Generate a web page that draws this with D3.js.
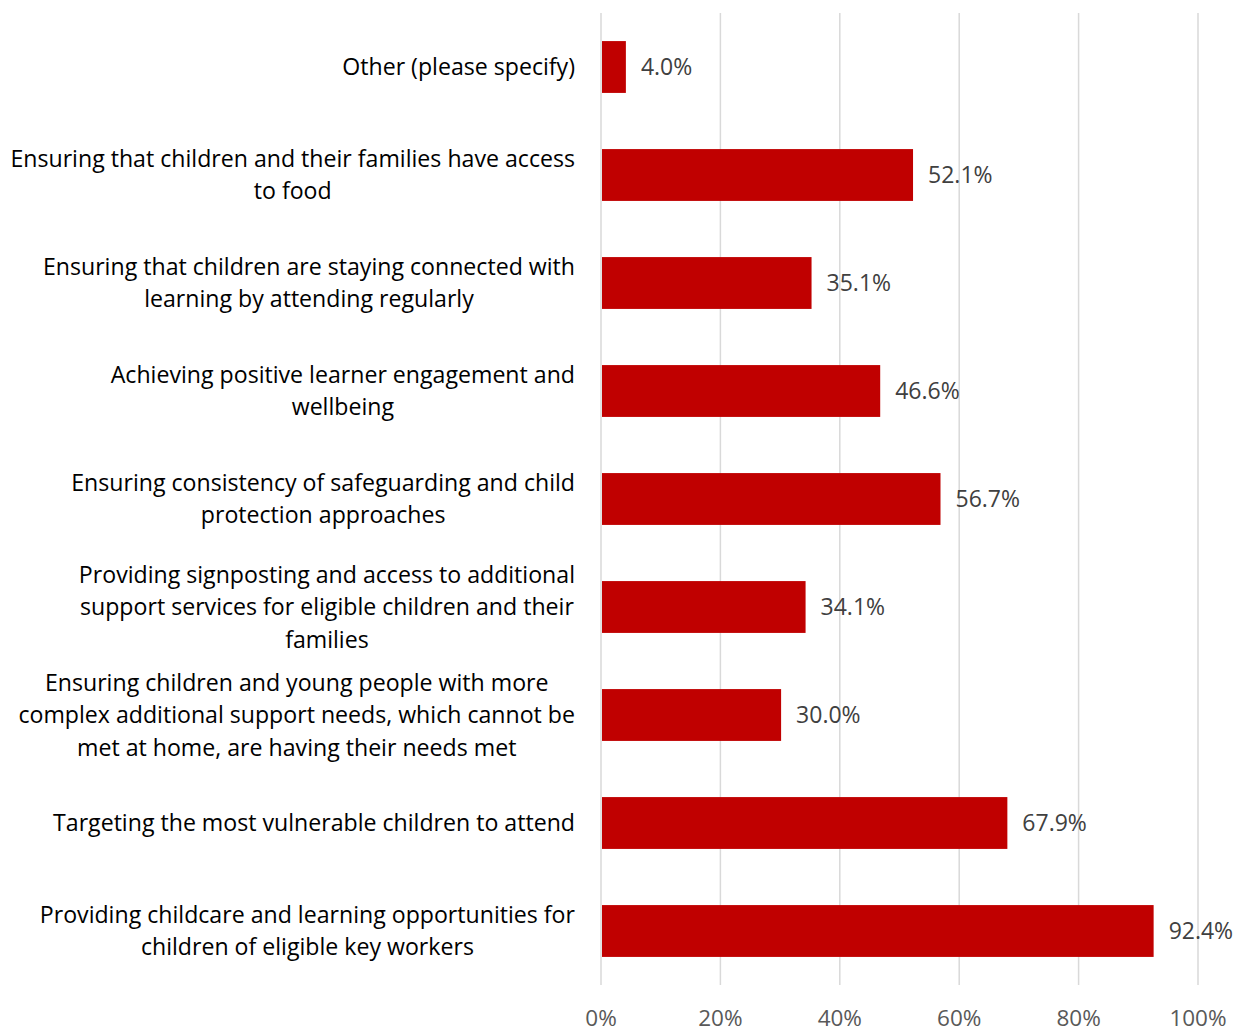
<!DOCTYPE html>
<html>
<head>
<meta charset="utf-8">
<script src="https://cdn.jsdelivr.net/npm/d3@7"></script>
<style>
  html, body { margin: 0; padding: 0; background: #fff; }
  svg { display: block; font-family: "Open Sans", Lato, sans-serif; }
</style>
</head>
<body>
<svg id="chart" width="1243" height="1029"></svg>
<script>
// Categories, top to bottom, with their line breaks
const categories = [
  ["Other (please specify)"],
  ["Ensuring that children and their families have access", "to food"],
  ["Ensuring that children are staying connected with", "learning by attending regularly"],
  ["Achieving positive learner engagement and", "wellbeing"],
  ["Ensuring consistency of safeguarding and child", "protection approaches"],
  ["Providing signposting and access to additional", "support services for eligible children and their", "families"],
  ["Ensuring children and young people with more", "complex additional support needs, which cannot be", "met at home, are having their needs met"],
  ["Targeting the most vulnerable children to attend"],
  ["Providing childcare and learning opportunities for", "children of eligible key workers"]
];
const values = [4.0, 52.1, 35.1, 46.6, 56.7, 34.1, 30.0, 67.9, 92.4];
const ticks = [0, 20, 40, 60, 80, 100];

const svg = d3.select("#chart");
const margin = { top: 13, left: 601, right: 45, bottom: 44 };
const width = 1243, height = 1029;
const labelRight = 575;
const labelMaxWidth = 565;

const x = d3.scaleLinear().domain([0, 100]).range([margin.left, width - margin.right]);
const y = d3.scaleBand()
  .domain(d3.range(categories.length))
  .range([margin.top, height - margin.bottom])
  .paddingInner(0.52)
  .paddingOuter(0.26);

// Vertical gridlines
svg.append("g")
  .selectAll("line")
  .data(ticks)
  .join("line")
  .attr("x1", d => x(d)).attr("x2", d => x(d))
  .attr("y1", margin.top).attr("y2", height - margin.bottom)
  .attr("stroke", "#d9d9d9")
  .attr("stroke-width", 1.5);

// Bars
svg.append("g")
  .selectAll("rect")
  .data(values)
  .join("rect")
  .attr("x", x(0) + 1)
  .attr("y", (d, i) => y(i))
  .attr("width", d => x(d) - x(0))
  .attr("height", y.bandwidth())
  .attr("fill", "#c00000");

// Value labels
svg.append("g")
  .selectAll("text")
  .data(values)
  .join("text")
  .attr("x", d => x(d) + 16)
  .attr("y", (d, i) => y(i) + y.bandwidth() / 2)
  .attr("dy", "0.35em")
  .attr("font-size", 23)
  .attr("fill", "#404040")
  .text(d => d.toFixed(1) + "%");

// Category labels: size the font so the longest line fills the label column,
// then centre each wrapped block's lines within its own width, right-aligned.
const probe = svg.append("text").attr("font-size", 22)
  .text(d3.greatest(categories.flat(), s => s.length));
const labelSize = 22 * labelMaxWidth / probe.node().getComputedTextLength();
probe.remove();
const fitSize = Math.min(labelSize, 23.2);

const lineH = 32.5;
const labels = svg.append("g")
  .selectAll("text")
  .data(categories)
  .join("text")
  .attr("text-anchor", "middle")
  .attr("font-size", fitSize)
  .attr("fill", "#000");
labels.each(function(lines, i) {
  const g = d3.select(this);
  const cy = y(i) + y.bandwidth() / 2;
  const start = cy - (lines.length - 1) * lineH / 2;
  const spans = g.selectAll("tspan")
    .data(lines)
    .join("tspan")
    .attr("y", (d, j) => start + j * lineH)
    .attr("dy", "0.35em")
    .text(d => d);
  const w = d3.max(spans.nodes(), n => n.getComputedTextLength());
  spans.attr("x", labelRight - w / 2);
});

// X axis tick labels
svg.append("g")
  .selectAll("text")
  .data(ticks)
  .join("text")
  .attr("x", d => x(d))
  .attr("y", 1018)
  .attr("dy", "0.35em")
  .attr("text-anchor", "middle")
  .attr("font-size", 22.5)
  .attr("fill", "#595959")
  .text(d => d + "%");
</script>
</body>
</html>
